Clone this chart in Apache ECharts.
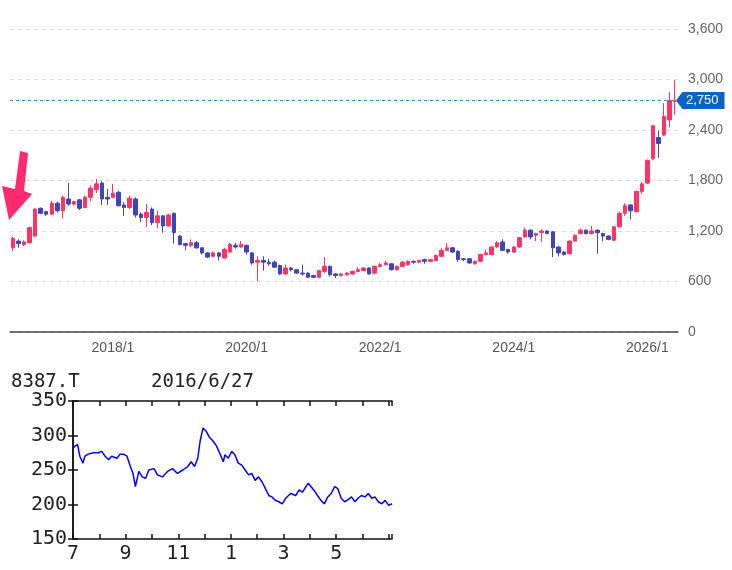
<!DOCTYPE html>
<html>
<head>
<meta charset="utf-8">
<script src="https://cdn.jsdelivr.net/npm/echarts@6/dist/echarts.min.js"></script>
<style>
  html, body { margin: 0; padding: 0; background: #fff; }
  #chart { width: 732px; height: 570px; }
</style>
</head>
<body>
<div id="chart"></div>
<script>
// 月足 (2016/7 から)  [open, close, low, high]
var startYear = 2016;
var startMonth = 7;
var monthlyOHLC = [
  [1000, 1110, 960, 1130], [1080, 1050, 1000, 1100], [1040, 1070, 1020, 1090], [1060, 1240, 1050, 1250],
  [1140, 1460, 1130, 1470], [1470, 1410, 1400, 1480], [1430, 1400, 1380, 1440], [1400, 1530, 1390, 1560],
  [1530, 1440, 1420, 1550], [1440, 1600, 1350, 1620], [1580, 1520, 1500, 1770], [1520, 1550, 1500, 1560],
  [1570, 1470, 1450, 1580], [1480, 1600, 1470, 1620], [1600, 1710, 1550, 1740], [1690, 1760, 1650, 1820],
  [1770, 1580, 1510, 1790], [1600, 1580, 1510, 1700], [1600, 1650, 1590, 1760], [1660, 1500, 1490, 1680],
  [1510, 1480, 1380, 1540], [1480, 1590, 1460, 1620], [1580, 1390, 1360, 1600], [1400, 1360, 1310, 1420],
  [1360, 1420, 1250, 1520], [1460, 1300, 1270, 1480], [1300, 1380, 1230, 1440], [1380, 1260, 1180, 1390],
  [1260, 1390, 1250, 1400], [1410, 1180, 1050, 1420], [1140, 1040, 1030, 1150], [1050, 1030, 970, 1060],
  [1030, 1060, 1010, 1100], [1060, 1000, 990, 1080], [1000, 940, 920, 1010], [940, 890, 880, 950],
  [900, 940, 890, 960], [940, 900, 850, 950], [880, 980, 870, 1000], [950, 1040, 940, 1060],
  [1030, 1010, 990, 1060], [1010, 1040, 1000, 1080], [1030, 950, 920, 1040], [940, 820, 800, 950],
  [830, 850, 600, 900], [850, 830, 730, 900], [830, 810, 790, 870], [830, 770, 760, 850],
  [790, 690, 680, 800], [690, 760, 680, 800], [760, 740, 720, 770], [740, 700, 690, 750],
  [700, 690, 670, 800], [700, 650, 640, 710], [670, 650, 640, 680], [650, 730, 640, 740],
  [720, 780, 700, 890], [780, 680, 660, 790], [690, 670, 640, 700], [670, 690, 660, 700],
  [680, 700, 670, 710], [690, 720, 680, 730], [720, 740, 710, 770], [730, 760, 720, 770],
  [760, 690, 680, 770], [700, 780, 690, 790], [780, 800, 770, 820], [800, 820, 790, 850],
  [810, 740, 730, 820], [740, 780, 730, 790], [780, 830, 770, 840], [800, 840, 790, 850],
  [840, 830, 810, 850], [830, 850, 820, 860], [860, 840, 810, 870], [840, 860, 830, 870],
  [850, 910, 840, 920], [900, 970, 890, 1000], [970, 1000, 960, 1060], [1000, 950, 940, 1010],
  [960, 860, 830, 970], [870, 860, 840, 880], [870, 820, 810, 880], [810, 840, 800, 850],
  [840, 920, 830, 930], [920, 940, 910, 980], [920, 1010, 910, 1020], [1010, 1060, 1000, 1080],
  [1070, 970, 960, 1100], [980, 950, 930, 990], [950, 1010, 940, 1020], [1010, 1120, 1000, 1130],
  [1130, 1210, 1120, 1240], [1210, 1130, 1100, 1220], [1150, 1170, 1080, 1180], [1180, 1200, 1070, 1220],
  [1200, 1170, 1160, 1210], [1190, 1000, 890, 1200], [1010, 940, 900, 1020], [950, 920, 910, 960],
  [930, 1080, 920, 1090], [1080, 1150, 1070, 1160], [1170, 1210, 1160, 1230], [1210, 1170, 1160, 1220],
  [1170, 1200, 1160, 1260], [1210, 1180, 930, 1220], [1170, 1140, 1080, 1180], [1140, 1100, 1090, 1150],
  [1090, 1250, 1080, 1260], [1250, 1410, 1240, 1430], [1410, 1500, 1380, 1530], [1510, 1440, 1340, 1520],
  [1430, 1670, 1420, 1680], [1670, 1760, 1640, 1780], [1770, 2040, 1760, 2050], [2060, 2450, 2040, 2460],
  [2310, 2240, 2070, 2390], [2340, 2560, 2330, 2720], [2520, 2750, 2430, 2850], [2740, 2750, 2580, 2990]
];
var lastPrice = 2750;
var priceTicks = [0, 600, 1200, 1800, 2400, 3000, 3600];

// 下段: 8387.T 2016/6/27 (x = 7月始まりからの月数)
var lowerTitle = "8387.T";
var lowerDate = "2016/6/27";
var lowerMonths = [
  0.00, 0.09, 0.17, 0.26, 0.38, 0.45, 0.58, 0.77, 0.96, 1.09, 1.22, 1.35, 1.47, 1.67, 1.79, 1.92,
  2.05, 2.18, 2.28, 2.37, 2.50, 2.63, 2.76, 2.88, 3.08, 3.21, 3.40, 3.59, 3.78, 3.97, 4.17, 4.36,
  4.49, 4.62, 4.74, 4.83, 4.94, 5.06, 5.19, 5.32, 5.45, 5.58, 5.71, 5.77, 5.90, 6.03, 6.15, 6.28,
  6.41, 6.54, 6.67, 6.79, 6.92, 7.05, 7.18, 7.31, 7.44, 7.56, 7.69, 7.82, 7.95, 8.08, 8.27, 8.46,
  8.59, 8.72, 8.85, 8.94, 9.04, 9.17, 9.29, 9.42, 9.55, 9.68, 9.81, 9.94, 10.06, 10.19, 10.32, 10.45,
  10.58, 10.71, 10.83, 10.96, 11.09, 11.22, 11.35, 11.47, 11.60, 11.73, 11.86, 11.99, 12.12
];
var lowerPrices = [
  282, 285, 287, 270, 260, 270, 273, 275, 275, 277, 270, 265, 270, 267, 273, 273,
  270, 255, 245, 226, 248, 240, 238, 250, 252, 243, 240, 248, 252, 245, 250, 255,
  262, 255, 267, 292, 311, 306, 297, 292, 285, 274, 262, 272, 267, 277, 272, 260,
  257, 250, 243, 245, 235, 240, 233, 223, 213, 211, 206, 204, 201, 209, 216, 213,
  221, 218, 226, 231, 226, 220, 213, 206, 201, 211, 216, 226, 223, 209, 204, 207,
  211, 204, 209, 213, 211, 216, 209, 211, 204, 201, 206, 199, 201
];
var lowerTicks = [150, 200, 250, 300, 350];

var categories = [];
for (var i = 0; i < monthlyOHLC.length; i++) {
  var m = startMonth - 1 + i;
  categories.push((startYear + Math.floor(m / 12)) + "/" + (m % 12 + 1));
}

var narrow = "'Liberation Sans Narrow', 'Arial Narrow', Arial, sans-serif";
var mono = "'DejaVu Sans Mono', monospace";
var upColor = "#ff3366";
var downColor = "#4444b8";
var tagColor = "#0b63c5";

var chart = echarts.init(document.getElementById("chart"));
chart.setOption({
  animation: false,
  backgroundColor: "#fff",
  title: [
    { text: lowerTitle, left: 6, top: 368, textStyle: { fontFamily: mono, fontSize: 19, fontWeight: "normal", color: "#222" } },
    { text: lowerDate, left: 146, top: 368, textStyle: { fontFamily: mono, fontSize: 19, fontWeight: "normal", color: "#222" } }
  ],
  grid: [
    { left: 10, right: 54, top: 29, bottom: 238 },
    { left: 73, right: 340, top: 401, bottom: 31 }
  ],
  xAxis: [
    {
      type: "category", gridIndex: 0, data: categories, boundaryGap: true,
      axisLine: { lineStyle: { color: "#444", width: 1.5 } },
      axisTick: { show: false },
      axisLabel: {
        color: "#555", fontFamily: narrow, fontSize: 14, margin: 9,
        interval: function (idx, val) {
          var p = val.split("/");
          return p[1] === "1" && Number(p[0]) % 2 === 0;
        }
      },
      splitLine: { show: false }
    },
    {
      type: "value", gridIndex: 1, min: 0, max: 12.12, interval: 1,
      axisLine: { lineStyle: { color: "#111", width: 1.5 } },
      axisTick: { inside: true, length: 5, lineStyle: { color: "#111", width: 1.5 } },
      axisLabel: {
        color: "#222", fontFamily: mono, fontSize: 20, margin: 5,
        formatter: function (v) {
          if (v % 2 !== 0 || v > 11) return "";
          return String((startMonth - 1 + v) % 12 + 1);
        }
      },
      splitLine: { show: false }
    },
    {
      type: "value", gridIndex: 1, position: "top", min: 0, max: 12.12, interval: 1,
      axisLine: { lineStyle: { color: "#111", width: 1.5 } },
      axisTick: { inside: true, length: 5, lineStyle: { color: "#111", width: 1.5 } },
      axisLabel: { show: false },
      splitLine: { show: false }
    }
  ],
  yAxis: [
    {
      type: "value", gridIndex: 0, position: "right",
      min: priceTicks[0], max: priceTicks[priceTicks.length - 1], interval: 600,
      axisLine: { show: false },
      axisTick: { show: false },
      axisLabel: { color: "#666", fontFamily: narrow, fontSize: 14, margin: 10 },
      splitLine: { lineStyle: { color: "#ddd", type: [4, 4] } }
    },
    {
      type: "value", gridIndex: 1, position: "left",
      min: lowerTicks[0], max: lowerTicks[lowerTicks.length - 1], interval: 50,
      axisLine: { show: true, lineStyle: { color: "#111", width: 1.5 } },
      axisTick: { show: true, inside: true, length: 5, lineStyle: { color: "#111", width: 1.5 } },
      axisLabel: { color: "#222", fontFamily: mono, fontSize: 20, margin: 6 },
      splitLine: { show: false }
    },
    {
      type: "value", gridIndex: 1, position: "right",
      min: lowerTicks[0], max: lowerTicks[lowerTicks.length - 1], interval: 50,
      axisLine: { show: true, lineStyle: { color: "#111", width: 1.5 } },
      axisTick: { show: true, inside: true, length: 5, lineStyle: { color: "#111", width: 1.5 } },
      axisLabel: { show: false },
      splitLine: { show: false }
    }
  ],
  series: [
    {
      type: "candlestick", xAxisIndex: 0, yAxisIndex: 0,
      data: monthlyOHLC, barWidth: 4,
      itemStyle: { color: upColor, color0: downColor, borderColor: upColor, borderColor0: downColor, borderWidth: 1 },
      markLine: {
        symbol: "none", silent: true,
        data: [{ yAxis: lastPrice }],
        lineStyle: { color: "#3a8ad8", type: [3, 3], width: 1 },
        label: {
          position: "end", distance: 4,
          formatter: function () { return lastPrice.toLocaleString("en-US"); },
          color: "#fff", backgroundColor: tagColor, padding: [2, 6, 2, 4],
          fontFamily: "Arial, 'Liberation Sans', sans-serif", fontSize: 13
        }
      }
    },
    {
      type: "line", xAxisIndex: 1, yAxisIndex: 1,
      data: lowerMonths.map(function (mo, k) { return [mo, lowerPrices[k]]; }),
      showSymbol: false,
      lineStyle: { color: "#0000ff", width: 1.5 },
      itemStyle: { color: "#0000ff" }
    }
  ]
});

// 注目矢印と現在値タグの三角
var tagY = chart.convertToPixel({ yAxisIndex: 0 }, lastPrice);
chart.setOption({
  graphic: [
    {
      type: "polygon",
      shape: { points: [[20, 151], [28, 153], [24, 191], [32, 194], [9, 220], [2, 186], [15, 189]] },
      style: { fill: "#ff2b6e" }
    },
    {
      type: "polygon",
      shape: { points: [[676, tagY], [682, tagY - 8], [682, tagY + 8]] },
      style: { fill: tagColor }
    }
  ]
});
</script>
</body>
</html>
